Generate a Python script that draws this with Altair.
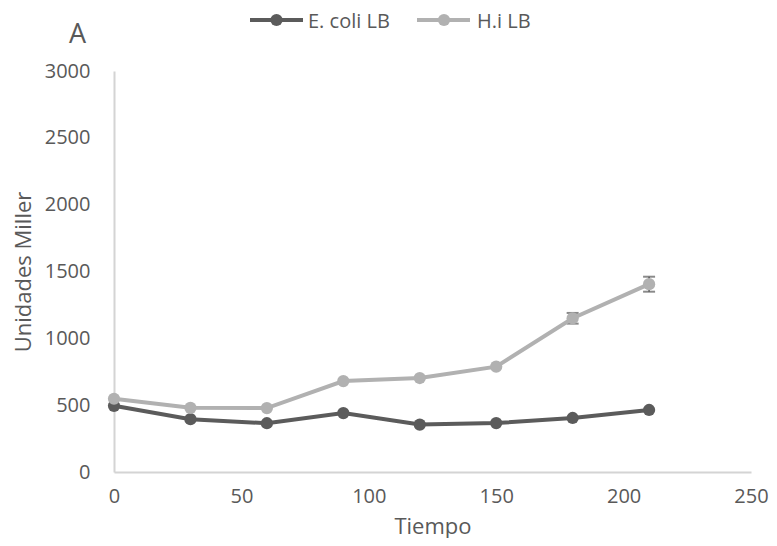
import altair as alt
import pandas as pd

tiempo = [0, 30, 60, 90, 120, 150, 180, 210]
ecoli_lb = [495, 395, 365, 441, 355, 366, 404, 464]
hi_lb = [548, 480, 478, 680, 703, 788, 1150, 1405]
ecoli_err = [0, 0, 0, 0, 0, 0, 0, 0]
hi_err = [0, 0, 0, 0, 0, 0, 40, 56]
series_names = ["E. coli LB", "H.i LB"]
series_colors = ["#5b5b5b", "#b1b1b1"]
x_ticks = [0, 50, 100, 150, 200, 250]
y_ticks = [0, 500, 1000, 1500, 2000, 2500, 3000]
panel_label = "A"

rows = []
for name, vals, errs in zip(series_names, [ecoli_lb, hi_lb], [ecoli_err, hi_err]):
    for t, v, e in zip(tiempo, vals, errs):
        rows.append({"Tiempo": t, "Valor": v, "Serie": name, "err": e,
                     "lo": v - e, "hi": v + e})
df = pd.DataFrame(rows)

FONT = "Open Sans"
TXT = "#595959"
AX = "#d4d4d4"

x = alt.X("Tiempo:Q",
          scale=alt.Scale(domain=[0, 250], nice=False, zero=True),
          axis=alt.Axis(values=x_ticks, title="Tiempo", grid=False, ticks=False,
                        domainColor=AX, domainWidth=2, labelPadding=14,
                        labelFlush=False, format="d",
                        titlePadding=10, labelFontSize=20, titleFontSize=22,
                        labelColor=TXT, titleColor=TXT, labelFont=FONT,
                        titleFont=FONT, titleFontWeight="normal"))
y = alt.Y("Valor:Q",
          scale=alt.Scale(domain=[0, 3000], nice=False),
          axis=alt.Axis(values=y_ticks, title="Unidades Miller", grid=False,
                        ticks=False, domainColor=AX, domainWidth=2,
                        labelFlush=False, format="d",
                        labelPadding=24, titlePadding=9, labelFontSize=20,
                        titleFontSize=22, labelColor=TXT, titleColor=TXT,
                        labelFont=FONT, titleFont=FONT,
                        titleFontWeight="normal"))

color_scale = alt.Scale(domain=series_names, range=series_colors)

base = alt.Chart(df)

err_filter = alt.datum.err > 0
err_rule = base.mark_rule(color="#595959", strokeWidth=1.5).encode(
    x=x, y="lo:Q", y2="hi:Q").transform_filter(err_filter)
cap_lo = base.mark_tick(color="#595959", thickness=2, size=12,
                        orient="horizontal").encode(
    x=x, y=alt.Y("lo:Q")).transform_filter(err_filter)
cap_hi = base.mark_tick(color="#595959", thickness=2, size=12,
                        orient="horizontal").encode(
    x=x, y=alt.Y("hi:Q")).transform_filter(err_filter)

lines = base.mark_line(strokeWidth=4).encode(
    x=x, y=y,
    color=alt.Color("Serie:N", scale=color_scale, legend=None),
    order=alt.Order("Tiempo:Q"))
points = base.mark_circle(size=150, opacity=1).encode(
    x=x, y=y,
    color=alt.Color("Serie:N", scale=color_scale, legend=None))

# manual legend at the top (pixel offsets from the plot's top-left corner)
legend_layers = []
legend_slots = [(136, 189, 162.5, 194), (303, 356, 330, 363)]
for name, col, (xa, xb, xc, xt) in zip(series_names, series_colors, legend_slots):
    ldf = pd.DataFrame({"Serie": [name]})
    lb = alt.Chart(ldf)
    legend_layers.append(lb.mark_rule(color=col, strokeWidth=4).encode(
        x=alt.value(xa), x2=alt.value(xb), y=alt.value(-51)))
    legend_layers.append(lb.mark_circle(color=col, size=150, opacity=1).encode(
        x=alt.value(xc), y=alt.value(-51)))
    legend_layers.append(lb.mark_text(align="left", baseline="middle",
                                      font=FONT, fontSize=20, color=TXT).encode(
        x=alt.value(xt), y=alt.value(-49), text="Serie:N"))

label_chart = alt.Chart(pd.DataFrame({"t": [panel_label]})).mark_text(
    align="left", baseline="alphabetic", font=FONT, fontSize=27, color=TXT
).encode(x=alt.value(-45), y=alt.value(-28), text="t:N")

chart = alt.layer(err_rule, cap_lo, cap_hi, lines, points, label_chart,
                  *legend_layers).properties(
    width=637, height=401,
    autosize=alt.AutoSizeParams(type="none"),
    padding={"left": 106, "top": 63, "right": 18, "bottom": 66},
).configure_view(stroke=None)

chart.save("out.html", embed_options={"renderer": "svg", "actions": False})
